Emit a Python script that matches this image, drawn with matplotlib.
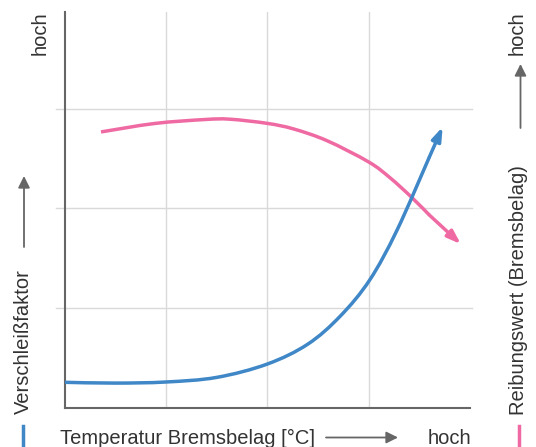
import matplotlib.pyplot as plt
from matplotlib.patches import FancyArrowPatch, PathPatch
from matplotlib.path import Path

plt.rcParams['font.family'] = ['Liberation Sans', 'DejaVu Sans']

# Verschleissfaktor (blue)
wear_x = [0.0, 0.50, 1.00, 1.50, 2.00, 2.40, 2.72, 3.01, 3.28, 3.60, 3.73]
wear_y = [0.253, 0.245, 0.256, 0.302, 0.436, 0.636, 0.917, 1.279, 1.78, 2.516, 2.816]

# Reibungswert (pink)
fric_x = [0.36, 0.89, 1.39, 1.63, 2.00, 2.26, 2.59, 3.00, 3.21, 3.42, 3.60, 3.91]
fric_y = [2.766, 2.851, 2.891, 2.894, 2.852, 2.796, 2.678, 2.465, 2.307, 2.114, 1.931, 1.64]

blue = '#3f87c7'
pink = '#ef6aa2'
text_c = '#333333'
axis_c = '#666666'
grid_c = '#d9d9d9'


def smooth_path(xs, ys):
    """Catmull-Rom through the points, as cubic bezier segments."""
    pts = list(zip(xs, ys))
    verts = [pts[0]]
    codes = [Path.MOVETO]
    for i in range(len(pts) - 1):
        p0 = pts[i - 1] if i > 0 else pts[i]
        p1, p2 = pts[i], pts[i + 1]
        p3 = pts[i + 2] if i + 2 < len(pts) else pts[i + 1]
        c1 = (p1[0] + (p2[0] - p0[0]) / 6, p1[1] + (p2[1] - p0[1]) / 6)
        c2 = (p2[0] - (p3[0] - p1[0]) / 6, p2[1] - (p3[1] - p1[1]) / 6)
        verts += [c1, c2, p2]
        codes += [Path.CURVE4] * 3
    return Path(verts, codes)


W, H = 536, 447
fig = plt.figure(figsize=(5.36, 4.47), dpi=100)
ax = fig.add_axes([64.5 / W, 39.5 / H, 405.5 / W, 395.5 / H])
ax.set_xlim(0, 4)
ax.set_ylim(0, 3.97)

for g in [1, 2, 3]:
    ax.plot([g, g], [0, 3.97], color=grid_c, lw=1, zorder=1)
    ax.plot([-0.084, 4.02], [g, g], color=grid_c, lw=1, zorder=1, clip_on=False)

for s in ['top', 'right']:
    ax.spines[s].set_visible(False)
for s in ['left', 'bottom']:
    ax.spines[s].set_color(axis_c)
    ax.spines[s].set_linewidth(1.5)
ax.set_xticks([])
ax.set_yticks([])

head = '-|>,head_length=0.8,head_width=0.28'
for xs, ys, col, z in [(wear_x, wear_y, blue, 3), (fric_x, fric_y, pink, 2)]:
    ax.add_patch(PathPatch(smooth_path(xs[:-1], ys[:-1]), facecolor='none', edgecolor=col,
                           lw=2.5, capstyle='butt', zorder=z))
    ax.annotate('', xy=(xs[-1], ys[-1]), xytext=(xs[-2], ys[-2]),
                arrowprops=dict(arrowstyle=head, color=col, lw=2.5, shrinkA=0, shrinkB=0),
                zorder=z)

fs = 14.5


def fx(px):
    return px / W


def fy(py):
    return 1 - py / H


def gray_arrow(p0, p1):
    fig.add_artist(FancyArrowPatch((fx(p0[0]), fy(p0[1])), (fx(p1[0]), fy(p1[1])),
                                   transform=fig.transFigure,
                                   arrowstyle='-|>,head_length=7,head_width=3.5',
                                   color=axis_c, lw=1.3, shrinkA=0, shrinkB=0))


def bar(px, color):
    fig.add_artist(plt.Line2D([fx(px), fx(px)], [fy(426), fy(447)], transform=fig.transFigure,
                              color=color, lw=2.5))


# left side labels
fig.text(fx(40), fy(11), 'hoch', rotation=90, ha='center', va='top', fontsize=fs, color=text_c)
fig.text(fx(23), fy(414), 'Verschleißfaktor', rotation=90, ha='center', va='bottom',
         fontsize=fs, color=text_c)
gray_arrow((24, 247), (24, 176))
bar(22.5, blue)

# right side labels
fig.text(fx(517), fy(11), 'hoch', rotation=90, ha='center', va='top', fontsize=fs, color=text_c)
fig.text(fx(519), fy(415), 'Reibungswert (Bremsbelag)', rotation=90, ha='center', va='bottom',
         fontsize=fs, color=text_c)
gray_arrow((520.5, 128), (520.5, 64))
bar(519, pink)

# bottom labels
fig.text(fx(60), fy(438), 'Temperatur Bremsbelag [°C]', ha='left', va='center',
         fontsize=fs, color=text_c)
gray_arrow((326, 437.5), (398, 437.5))
fig.text(fx(471), fy(438), 'hoch', ha='right', va='center', fontsize=fs, color=text_c)

fig.savefig('out.png', dpi=100, facecolor='white')
